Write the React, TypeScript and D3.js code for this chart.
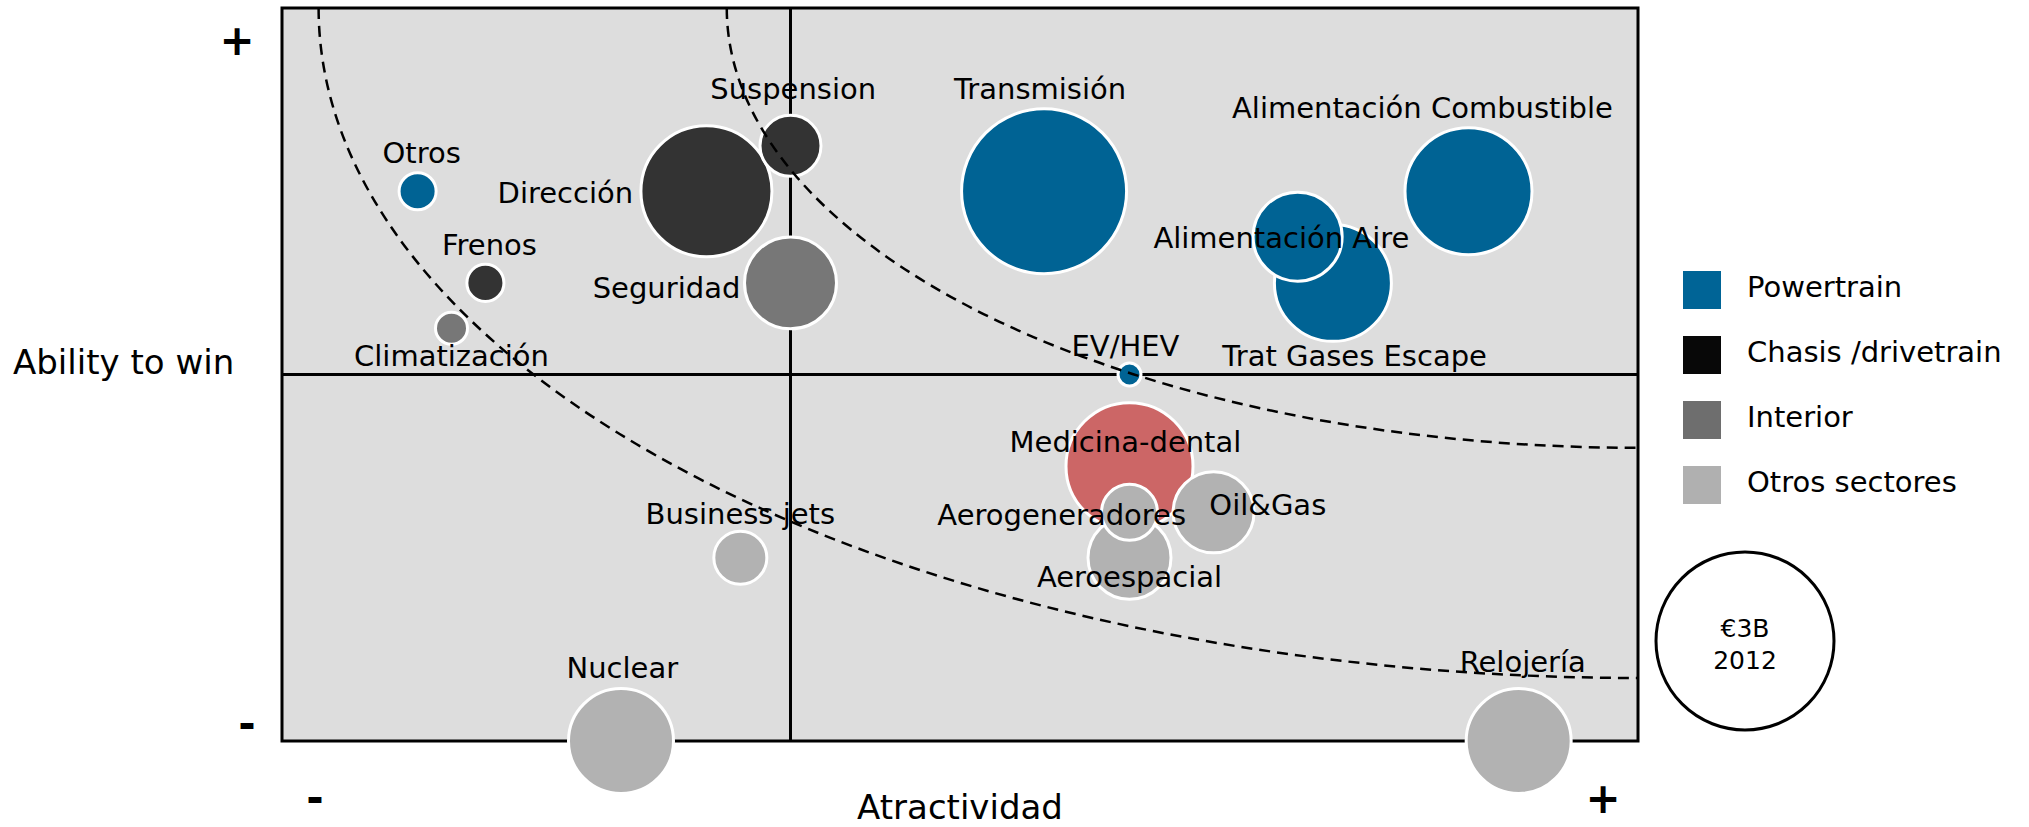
import React from "react";
import * as d3 from "d3";

const W = 2029;
const H = 827;

const names = [
  "Medicina-dental", "Aeroespacial", "Oil&Gas", "Aerogeneradores",
  "Otros", "Frenos", "Climatización", "Dirección", "Suspension", "Seguridad",
  "Transmisión", "Alimentación Combustible", "Trat Gases Escape", "Alimentación Aire",
  "EV/HEV", "Business jets", "Nuclear", "Relojería",
];
const groups = [
  "Medicina", "Otros sectores", "Otros sectores", "Otros sectores",
  "Powertrain", "Chasis /drivetrain", "Interior", "Chasis /drivetrain", "Chasis /drivetrain", "Interior",
  "Powertrain", "Powertrain", "Powertrain", "Powertrain",
  "Powertrain", "Otros sectores", "Otros sectores", "Otros sectores",
];
const attractiveness = [
  62.5, 62.5, 68.7, 62.5,
  10, 15, 12.5, 31.3, 37.5, 37.5,
  56.2, 87.5, 77.5, 74.9,
  62.5, 33.8, 25, 91.2,
];
const ability = [
  37.5, 25, 31.2, 31.2,
  75, 62.5, 56.3, 75, 81.2, 62.5,
  75, 75, 62.5, 68.8,
  50, 25, 0, 0,
];
const sizes = [
  1527, 652, 621, 297,
  130, 130, 97, 1625, 352, 801,
  2578, 1527, 1296, 750,
  50, 266, 1044, 1044,
];
// label anchor positions (data units) & text anchor
const labelX = [
  62.2, 62.5, 72.7, 57.5,
  10.3, 15.3, 12.5, 25.9, 37.7, 33.8,
  55.9, 84.1, 79.1, 73.7,
  62.2, 33.8, 25.1, 91.5,
];
const labelY = [
  39.4, 21.0, 30.8, 29.5,
  78.9, 66.3, 51.2, 73.4, 87.6, 60.4,
  87.6, 85.0, 51.2, 67.3,
  52.5, 29.6, 8.6, 9.4,
];
const labelAnchor = [
  "middle", "middle", "middle", "middle",
  "middle", "middle", "middle", "end", "middle", "end",
  "middle", "middle", "middle", "middle",
  "middle", "middle", "middle", "middle",
];

const legendLabels = ["Powertrain", "Chasis /drivetrain", "Interior", "Otros sectores"];
const legendColors = ["#006496", "#080808", "#6e6e6e", "#b0b0b0"];

const colorOf: Record<string, string> = {
  "Powertrain": "#006394",
  "Chasis /drivetrain": "#333333",
  "Interior": "#777777",
  "Otros sectores": "#b2b2b2",
  "Medicina": "#cc6666",
};

// dashed iso-curves: quarter ellipses centred at the top-right corner
const curveXIntercept = [2.7, 32.8];
const curveYIntercept = [8.6, 40];

const xDivider = 37.5;
const yDivider = 50;
const refValue = 3000;

export default function App() {
  const left = 282, right = 1638, top = 8, bottom = 741;
  const x = d3.scaleLinear().domain([0, 100]).range([left, right]);
  const y = d3.scaleLinear().domain([0, 100]).range([bottom, top]);
  const r = d3.scaleSqrt().domain([0, refValue]).range([0, 89]);
  const font = "'DejaVu Sans', Verdana, sans-serif";

  const curves = curveXIntercept.map((xi, i) => {
    const rx = x(100) - x(xi);
    const ry = y(curveYIntercept[i]) - y(100);
    return `M${x(xi)},${y(100)} A${rx},${ry} 0 0 0 ${x(100)},${y(curveYIntercept[i])}`;
  });

  return (
    <svg width={W} height={H} style={{ position: "absolute", left: 0, top: 0 }} fontFamily={font}>
      <rect x={left} y={top} width={right - left} height={bottom - top} fill="#dddddd" stroke="#000" strokeWidth={3} />
      <line x1={x(xDivider)} x2={x(xDivider)} y1={top} y2={bottom} stroke="#000" strokeWidth={3} />
      <line x1={left} x2={right} y1={y(yDivider)} y2={y(yDivider)} stroke="#000" strokeWidth={3} />

      {names.map((n, i) => (
        <circle key={n} cx={x(attractiveness[i])} cy={y(ability[i])} r={r(sizes[i])}
          fill={colorOf[groups[i]]} stroke="#fff" strokeWidth={3} />
      ))}

      {curves.map((d, i) => (
        <path key={i} d={d} fill="none" stroke="#000" strokeWidth={2.5} strokeDasharray="11,7" />
      ))}

      {names.map((n, i) => (
        <text key={n} x={x(labelX[i])} y={y(labelY[i])} textAnchor={labelAnchor[i] as any}
          fontSize={29} fill="#000">{n}</text>
      ))}

      <text x={13} y={374} fontSize={34}>Ability to win</text>
      <text x={960} y={819} fontSize={34} textAnchor="middle">Atractividad</text>

      <text x={237} y={55} fontSize={42} fontWeight="bold" textAnchor="middle">+</text>
      <text x={247} y={738} fontSize={42} fontWeight="bold" textAnchor="middle">-</text>
      <text x={315} y={812} fontSize={42} fontWeight="bold" textAnchor="middle">-</text>
      <text x={1603} y={813} fontSize={42} fontWeight="bold" textAnchor="middle">+</text>

      {legendLabels.map((l, i) => (
        <g key={l}>
          <rect x={1683} y={271 + i * 65} width={38} height={38} fill={legendColors[i]} />
          <text x={1747} y={297 + i * 65} fontSize={29}>{l}</text>
        </g>
      ))}

      <circle cx={1745} cy={641} r={r(refValue)} fill="#fff" stroke="#000" strokeWidth={3} />
      <text x={1745} y={637} fontSize={25} textAnchor="middle">€3B</text>
      <text x={1745} y={669} fontSize={25} textAnchor="middle">2012</text>
    </svg>
  );
}
